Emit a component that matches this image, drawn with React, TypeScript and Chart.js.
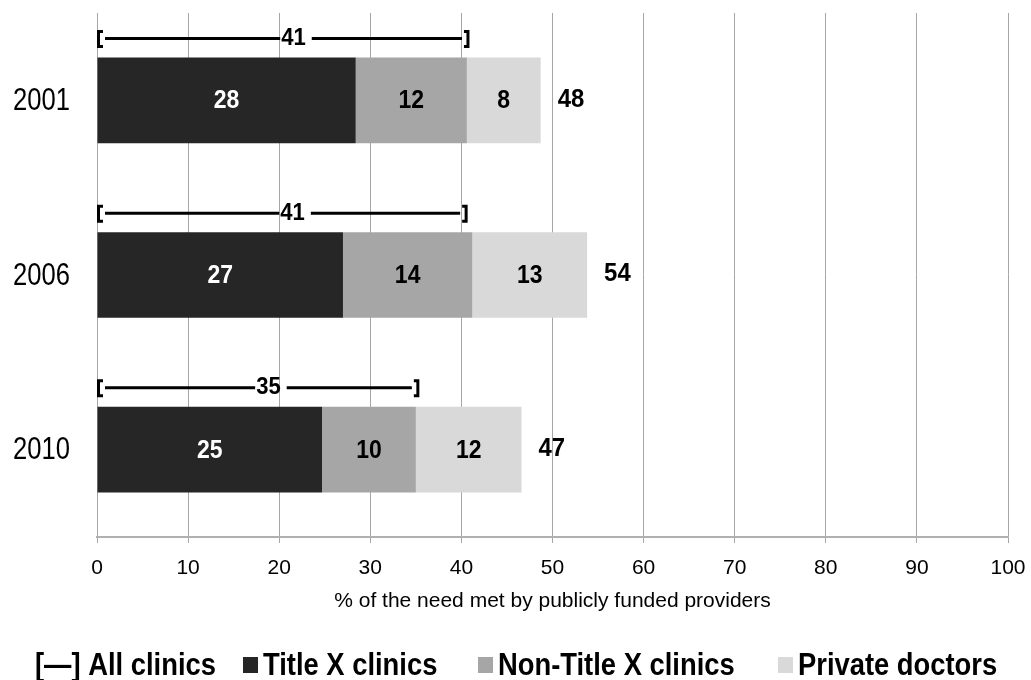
import React, { useEffect, useRef } from 'react';
import { Chart, registerables } from 'chart.js';

Chart.register(...registerables);

// ---- data ----
const years = ['2001', '2006', '2010'];
const titleX = [28.4, 27.0, 24.7];
const nonTitleX = [12.2, 14.2, 10.3];
const privateDoctors = [8.1, 12.6, 11.6];
const allClinicsExtent = [40.5, 40.3, 35.0];
const allClinicsLabels = ['41', '41', '35'];
const totalLabels = ['48', '54', '47'];
const seriesNames = ['Title X clinics', 'Non-Title X clinics', 'Private doctors'];
const axisTitle = '% of the need met by publicly funded providers';
const allClinicsName = '[\u2014] All clinics';

const COLORS = ['#262626', '#a6a6a6', '#d9d9d9'];
const LABEL_COLORS = ['#ffffff', '#000000', '#000000'];
const SANS = '"Liberation Sans", Arial, sans-serif';

function drawText(
  ctx: CanvasRenderingContext2D,
  text: string,
  x: number,
  y: number,
  sx: number,
  align: CanvasTextAlign,
  baseline: CanvasTextBaseline
) {
  ctx.save();
  ctx.translate(x, y);
  ctx.scale(sx, 1);
  ctx.textAlign = align;
  ctx.textBaseline = baseline;
  ctx.fillText(text, 0, 0);
  ctx.restore();
}

const overlay = {
  id: 'overlay',
  afterDatasetsDraw(chart: any) {
    const ctx = chart.ctx as CanvasRenderingContext2D;
    const xs = chart.scales.x;
    const ys = chart.scales.y;
    ctx.save();
    // category labels (condensed)
    ctx.font = `32px ${SANS}`;
    ctx.fillStyle = '#000';
    chart.data.labels.forEach((lab: string, j: number) => {
      drawText(ctx, lab, ys.right - 27, ys.getPixelForValue(j) + 1, 0.8, 'right', 'middle');
    });
    // segment labels
    chart.data.datasets.forEach((ds: any, i: number) => {
      const meta = chart.getDatasetMeta(i);
      meta.data.forEach((bar: any, j: number) => {
        const { x, base, y } = bar.getProps(['x', 'base', 'y'], true);
        ctx.font = `bold 25px ${SANS}`;
        ctx.fillStyle = LABEL_COLORS[i];
        drawText(ctx, String(Math.round(ds.data[j])), (x + base) / 2, y + 1, 0.92, 'center', 'middle');
      });
    });
    // totals
    const last = chart.getDatasetMeta(chart.data.datasets.length - 1);
    last.data.forEach((bar: any, j: number) => {
      const { x, y } = bar.getProps(['x', 'y'], true);
      ctx.font = `bold 26px ${SANS}`;
      ctx.fillStyle = '#000';
      drawText(ctx, totalLabels[j], x + 17, y - 1, 0.92, 'left', 'middle');
    });
    // all clinics brackets
    const first = chart.getDatasetMeta(0);
    first.data.forEach((bar: any, j: number) => {
      const { y, height } = bar.getProps(['y', 'height'], true);
      const by = y - height / 2 - 19;
      const x0 = xs.getPixelForValue(0);
      const x1 = xs.getPixelForValue(allClinicsExtent[j]);
      const mid = (x0 + x1) / 2 + 12;
      ctx.font = `bold 24px ${SANS}`;
      const w = ctx.measureText(allClinicsLabels[j]).width * 0.92;
      ctx.strokeStyle = '#000';
      ctx.lineWidth = 3;
      ctx.beginPath();
      ctx.moveTo(x0 + 8, by);
      ctx.lineTo(mid - w / 2 - 1, by);
      ctx.moveTo(mid + w / 2 + 6, by);
      ctx.lineTo(x1 - 4, by);
      ctx.stroke();
      ctx.lineWidth = 3;
      ctx.beginPath();
      ctx.moveTo(x0 + 6, by - 7);
      ctx.lineTo(x0 + 1.5, by - 7);
      ctx.lineTo(x0 + 1.5, by + 8);
      ctx.lineTo(x0 + 6, by + 8);
      ctx.moveTo(x1 - 2, by - 7);
      ctx.lineTo(x1 + 2, by - 7);
      ctx.lineTo(x1 + 2, by + 8);
      ctx.lineTo(x1 - 2, by + 8);
      ctx.stroke();
      ctx.fillStyle = '#000';
      drawText(ctx, allClinicsLabels[j], mid, by, 0.92, 'center', 'middle');
    });
    ctx.restore();
  },
  afterDraw(chart: any) {
    const ctx = chart.ctx as CanvasRenderingContext2D;
    const ca = chart.chartArea;
    ctx.save();
    // axis title
    ctx.font = `21px ${SANS}`;
    ctx.fillStyle = '#000';
    drawText(ctx, axisTitle, (ca.left + ca.right) / 2, 607, 1, 'center', 'alphabetic');
    // legend
    const baseY = 675;
    ctx.font = `bold 32px ${SANS}`;
    drawText(ctx, allClinicsName, 35, baseY, 0.855, 'left', 'alphabetic');
    const starts = [243, 478, 778];
    seriesNames.forEach((name, i) => {
      ctx.fillStyle = COLORS[i];
      ctx.fillRect(starts[i], baseY - 18, 15, 16);
      ctx.fillStyle = '#000';
      drawText(ctx, name, starts[i] + 20, baseY, 0.855, 'left', 'alphabetic');
    });
    ctx.restore();
  },
};

export default function App() {
  const ref = useRef<HTMLCanvasElement>(null);
  useEffect(() => {
    const seriesData = [titleX, nonTitleX, privateDoctors];
    const chart = new Chart(ref.current as HTMLCanvasElement, {
      type: 'bar',
      data: {
        labels: years,
        datasets: seriesNames.map((name, i) => ({
          label: name,
          data: seriesData[i],
          backgroundColor: COLORS[i],
          borderWidth: 0,
          barPercentage: 0.49,
          categoryPercentage: 1,
        })),
      },
      options: {
        indexAxis: 'y',
        responsive: false,
        animation: false,
        layout: { padding: { top: 13, right: 23, bottom: 0, left: 0 } },
        plugins: {
          legend: { display: false },
          tooltip: { enabled: false },
        },
        scales: {
          x: {
            stacked: true,
            min: 0,
            max: 100,
            ticks: {
              stepSize: 10,
              color: '#000',
              padding: 13,
              font: { family: SANS, size: 21 },
            },
            grid: {
              color: '#a6a6a6',
              lineWidth: 1,
              tickLength: 6,
              drawTicks: true,
            },
            border: { display: true, color: '#b0b0b0', width: 2 },
            afterFit: (s: any) => {
              s.height = 143;
              s.paddingLeft = 0;
              s.paddingRight = 0;
            },
          },
          y: {
            stacked: true,
            grid: { display: false },
            border: { display: false },
            ticks: { display: false },
            afterFit: (s: any) => {
              s.width = 97;
              s.paddingTop = 0;
              s.paddingBottom = 0;
            },
          },
        },
      },
      plugins: [overlay],
    } as any);
    return () => chart.destroy();
  }, []);
  return (
    <div style={{ position: 'absolute', left: 0, top: 0, width: 1031, height: 680 }}>
      <canvas ref={ref} width={1031} height={680} style={{ display: 'block' }} />
    </div>
  );
}
